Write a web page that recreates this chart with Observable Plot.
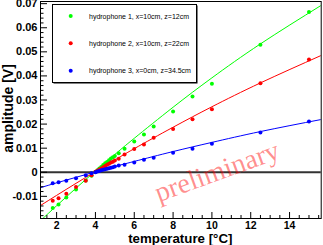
<!DOCTYPE html>
<html><head><meta charset="utf-8">
<script src="https://cdn.jsdelivr.net/npm/d3@7"></script>
<script src="https://cdn.jsdelivr.net/npm/@observablehq/plot@0.6"></script>
<style>body{margin:0;background:#fff}</style>
</head><body><div id="chart"></div>
<script>
// measured temperatures [°C]
const temps = [1.8, 2.1, 2.5, 3.0, 3.5, 3.8, 4.0, 4.1, 4.2, 4.3, 4.4, 4.5, 4.6, 4.7, 4.8, 4.9, 5.0, 5.2, 5.5, 6.0, 6.5, 7.0, 8.0, 9.0, 10.0, 12.5, 15.0];
// amplitudes [V]
const amp1 = [-0.0148, -0.0134, -0.0105, -0.0072, -0.0034, -0.0014, 0.0001, 0.0008, 0.0016, 0.0022, 0.0030, 0.0037, 0.0043, 0.0050, 0.0057, 0.0062, 0.0068, 0.0079, 0.0098, 0.0128, 0.0157, 0.0190, 0.0252, 0.0315, 0.0367, 0.0529, 0.0665];
const amp2 = [-0.0118, -0.0108, -0.0089, -0.0061, -0.0035, -0.0012, 0.0002, 0.0006, 0.0011, 0.0016, 0.0021, 0.0026, 0.0031, 0.0035, 0.0040, 0.0044, 0.0049, 0.0056, 0.0074, 0.0097, 0.0115, 0.0143, 0.0180, 0.0220, 0.0262, 0.0370, 0.0468];
const amp3 = [-0.0046, -0.0042, -0.0035, -0.0025, -0.0012, -0.0004, 0.0000, 0.0003, 0.0005, 0.0008, 0.0010, 0.0012, 0.0015, 0.0017, 0.0019, 0.0021, 0.0024, 0.0028, 0.0031, 0.0040, 0.0052, 0.0060, 0.0081, 0.0098, 0.0118, 0.0165, 0.0211];
// fit curves
const fitT = [1.17, 2, 3, 4, 5, 6, 8, 10, 12.5, 15.63];
const fit1 = [-0.0201, -0.0139, -0.0066, 0.0005, 0.0074, 0.0141, 0.0270, 0.0392, 0.0533, 0.0693];
const fit2 = [-0.0138, -0.0096, -0.0046, 0.0003, 0.0051, 0.0098, 0.0187, 0.0272, 0.0371, 0.0485];
const fit3 = [-0.0064, -0.0044, -0.0021, 0.0002, 0.0024, 0.0045, 0.0086, 0.0124, 0.0169, 0.0219];
const seriesNames = ["hydrophone 1, x=10cm, z=12cm", "hydrophone 2, x=10cm, z=22cm", "hydrophone 3, x=0cm, z=34.5cm"];
const colors = ["#00ff00", "#ff0000", "#0000ff"];
const xMajor = [2, 4, 6, 8, 10, 12, 14];
const xMinor = [1.5, 2.5, 3, 3.5, 4.5, 5, 5.5, 6.5, 7, 7.5, 8.5, 9, 9.5, 10.5, 11, 11.5, 12.5, 13, 13.5, 14.5, 15, 15.5];
const yMajor = [-0.01, 0, 0.01, 0.02, 0.03, 0.04, 0.05, 0.06, 0.07];
const yMinor = [-0.018, -0.016, -0.014, -0.012, -0.008, -0.006, -0.004, -0.002, 0.002, 0.004, 0.006, 0.008, 0.012, 0.014, 0.016, 0.018, 0.022, 0.024, 0.026, 0.028, 0.032, 0.034, 0.036, 0.038, 0.042, 0.044, 0.046, 0.048, 0.052, 0.054, 0.056, 0.058, 0.062, 0.064, 0.066, 0.068];
const xTitle = "temperature [°C]";
const yTitle = "amplitude [V]";
const watermark = "preliminary";

const amps = [amp1, amp2, amp3];
const fits = [fit1, fit2, fit3];
const rows = [];
amps.forEach((a, i) => temps.forEach((t, j) => rows.push({t, a: a[j], s: seriesNames[i]})));
const fitRows = [];
fits.forEach((f, i) => fitT.forEach((t, j) => fitRows.push({t, a: f[j], s: seriesNames[i]})));

const chart = Plot.plot({
  width: 323, height: 245,
  marginLeft: 40, marginRight: 2.3, marginTop: 1, marginBottom: 27,
  style: {fontFamily: "'Liberation Sans', Arial, sans-serif", background: "#fff", color: "#000"},
  x: {domain: [1.17, 15.63]},
  y: {domain: [-0.0192, 0.0709]},
  color: {type: "ordinal", domain: seriesNames, range: colors},
  marks: [
    Plot.ruleY([0], {stroke: "#333", strokeWidth: 2}),
    Plot.line(fitRows, {x: "t", y: "a", z: "s", stroke: "s", curve: "natural", clip: true, strokeWidth: 1}),
    Plot.dot(rows, {x: "t", y: "a", fill: "s", r: 2, stroke: null}),
    Plot.axisX({ticks: xMinor, tickSize: -3, fill: "none", label: null}),
    Plot.axisX({ticks: xMajor, tickSize: -6, tickPadding: 9, fontSize: 10.5, fontWeight: "bold", label: null, tickFormat: d => String(d)}),
    Plot.axisY({ticks: yMinor, tickSize: -3.5, fill: "none", label: null}),
    Plot.axisY({ticks: yMajor, tickSize: -7, tickPadding: 10, fontSize: 11, fontWeight: "bold", label: null, tickFormat: d => d === 0 ? "0" : d.toFixed(2)}),
    Plot.frame({stroke: "#000"})
  ]
});
document.getElementById("chart").appendChild(chart);

const svg = d3.select(chart);
// watermark
svg.append("text").text(watermark)
  .attr("transform", "translate(220,180) rotate(-20)")
  .attr("text-anchor", "middle")
  .attr("font-family", "'Liberation Serif', 'Times New Roman', serif")
  .attr("font-size", 28).attr("fill", "#ff0000").attr("fill-opacity", 0.45);
// legend
const lg = svg.append("g");
lg.append("rect").attr("x", 53.5).attr("y", 5.5).attr("width", 144).attr("height", 78).attr("fill", "#000");
lg.append("rect").attr("x", 52.5).attr("y", 4.5).attr("width", 144).attr("height", 78).attr("fill", "#fff").attr("stroke", "#000").attr("stroke-width", 1);
const rowsY = [16, 43.3, 70.7];
seriesNames.forEach((n, i) => {
  lg.append("circle").attr("cx", 70.7).attr("cy", rowsY[i]).attr("r", 2).attr("fill", colors[i]);
  lg.append("text").text(n).attr("x", 89).attr("y", rowsY[i] + 2.5)
    .attr("text-anchor", "start")
    .attr("font-size", 7).attr("fill", "#000")
    .attr("font-family", "'Liberation Sans', Arial, sans-serif");
});
// axis titles
svg.append("text").text(xTitle).attr("x", 180.3).attr("y", 243)
  .attr("text-anchor", "middle").attr("font-weight", "bold").attr("font-size", 13.3)
  .attr("font-family", "'Liberation Sans', Arial, sans-serif");
svg.append("text").text(yTitle).attr("transform", "translate(12.5,108.5) rotate(-90)")
  .attr("text-anchor", "middle").attr("font-weight", "bold").attr("font-size", 14)
  .attr("font-family", "'Liberation Sans', Arial, sans-serif");
</script>
</body></html>
